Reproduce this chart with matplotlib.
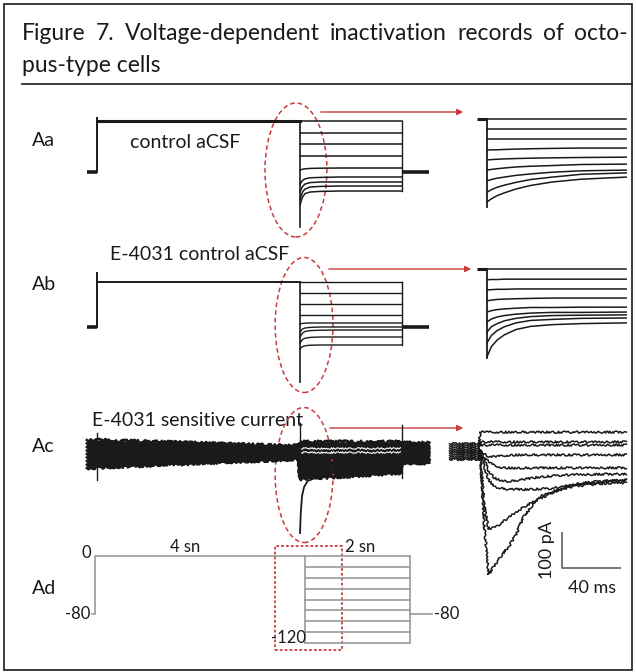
import numpy as np
import matplotlib.pyplot as plt
from matplotlib.patches import Ellipse, Rectangle

plt.rcParams['font.family'] = ['Lato', 'DejaVu Sans']

W, H = 636, 672
K = '#1a1a1a'
RED = '#cc3b3b'
GREY = '#9a9a9a'

# ---------------- data ----------------
# protocol times, s
t_hold = [-0.2, 0.0]
t_cond_end = 4.0
t_test_end = 6.0
t_tail_end = 6.55
t_test = [0.0, 0.05, 0.1, 0.2, 0.4, 0.8, 2.0]   # s after test step onset

# Aa: control aCSF, pA
aa_cond = 255
aa_cap = 270
aa_spike = -275
aa_test = [
    [255, 255, 255, 255, 255, 255, 255],
    [195, 195, 195, 195, 195, 195, 195],
    [140, 140, 140, 140, 140, 140, 140],
    [80, 80, 80, 80, 80, 80, 80],
    [10, 14, 16, 18, 19, 20, 20],
    [-60, -42, -34, -29, -27, -25, -25],
    [-100, -72, -60, -53, -50, -50, -50],
    [-135, -100, -85, -75, -72, -70, -70],
    [-165, -125, -108, -100, -97, -95, -95],
]

# Ab: E-4031 in control aCSF, pA
ab_cond = 225
ab_cap = 270
ab_spike = -275
ab_test = [
    [225, 225, 225, 225, 225, 225, 225],
    [170, 170, 170, 170, 170, 170, 170],
    [115, 115, 115, 115, 115, 115, 115],
    [60, 60, 60, 60, 60, 60, 60],
    [15, 18, 19, 20, 20, 20, 20],
    [-25, -10, -5, -2, 0, 0, 0],
    [-50, -30, -22, -18, -16, -15, -15],
    [-80, -62, -56, -52, -50, -50, -50],
    [-110, -98, -94, -91, -90, -90, -90],
]

# Ac: E-4031 sensitive current, pA
ac_t = [-0.2, 3.98, 4.0, 5.98, 6.0, 6.55]
ac_traces = [
    [65, 35, 55, 55, 50, 50],
    [48, 27, 40, 40, 38, 38],
    [30, 19, 25, 25, 25, 25],
    [12, 10, 5, 5, 12, 12],
    [-5, 2, -25, -20, 0, 0],
    [-22, -6, -55, -45, -12, -12],
    [-40, -14, -80, -65, -25, -25],
    [-58, -22, -105, -85, -38, -38],
    [-75, -30, -130, -100, -50, -50],
]
ac_dip_t = [4.0, 4.015, 4.04, 4.08, 4.15, 4.3, 4.6]
ac_dip = [-400, -300, -215, -170, -140, -125, -115]
ac_spikes = [(0.0, 100, -135), (4.0, 150, -130), (6.0, 140, -125)]

# insets: ms after test step onset, pA
ins_t = [0, 3, 7, 12, 20, 30, 45, 65, 96]
ins_aa = [
    [0, 0, 0, 0, 0, 0, 0, 0, 0],
    [-29, -29, -29, -29, -29, -29, -29, -29, -29],
    [-57, -57, -57, -57, -57, -57, -57, -57, -57],
    [-89, -88, -88, -87, -86, -85, -84, -83, -83],
    [-117, -116, -115, -114, -113, -112, -111, -110, -109],
    [-146, -144, -142, -140, -137, -135, -133, -130, -129],
    [-177, -173, -169, -166, -161, -157, -152, -148, -146],
    [-209, -202, -195, -189, -181, -173, -166, -158, -154],
    [-237, -228, -219, -211, -200, -190, -180, -172, -166],
]
ins_aa_bottom = -251
ins_ab = [
    [0, 0, 0, 0, 0, 0, 0, 0, 0],
    [-31, -30, -30, -29, -29, -29, -29, -29, -29],
    [-60, -59, -58, -58, -57, -57, -57, -57, -57],
    [-91, -89, -87, -86, -85, -84, -83, -83, -83],
    [-123, -119, -116, -114, -112, -110, -110, -109, -109],
    [-151, -143, -137, -133, -129, -126, -124, -124, -123],
    [-180, -165, -156, -148, -141, -136, -133, -132, -131],
    [-211, -190, -176, -165, -154, -147, -144, -141, -140],
    [-251, -222, -203, -188, -173, -164, -159, -156, -154],
]
ins_ab_bottom = -254

acin_pre_t = [-21, -0.5]
acin_pre = [18, 12, 6, 0, -5, -10, -16, -22, -27]
acin_t = [0, 3, 6, 10, 15, 20, 25, 30, 36, 42, 50, 58, 66, 76, 86, 101]
acin = [
    [51, 51, 51, 51, 51, 51, 51, 51, 51, 51, 51, 51, 51, 51, 51, 51],
    [23, 23, 23, 23, 23, 23, 23, 23, 23, 23, 23, 23, 23, 23, 23, 23],
    [14, 14, 14, 14, 14, 14, 14, 14, 14, 14, 14, 14, 14, 14, 14, 14],
    [-5, -12, -18, -20, -17, -15, -14, -14, -14, -14, -14, -14, -14, -14, -14, -14],
    [0, -20, -35, -45, -50, -51, -52, -52, -51, -51, -51, -51, -51, -51, -51, -51],
    [0, -30, -60, -80, -88, -90, -87, -84, -80, -77, -74, -72, -70, -70, -69, -69],
    [0, -50, -85, -105, -110, -112, -112, -113, -112, -111, -110, -104, -97, -92, -88, -86],
    [0, -160, -225, -222, -208, -192, -178, -163, -150, -138, -122, -110, -103, -99, -96, -94],
    [0, -220, -355, -330, -300, -275, -240, -191, -160, -132, -120, -108, -100, -95, -90, -86],
]

# Ad: voltage protocol, mV
v_hold = -80
v_cond = 0
v_test = [0, -15, -30, -45, -60, -75, -90, -105, -120]
t_proto_end = 6.42

fig = plt.figure(figsize=(W / 100, H / 100), dpi=100)


def make_ax(box, xref, yref):
    # box in pixels (left, top, right, bottom); xref/yref = (pixel of zero, pixels per unit)
    l, t, r, b = box
    ax = fig.add_axes([l / W, 1 - b / H, (r - l) / W, (b - t) / H])
    ax.set_xlim((l - xref[0]) / xref[1], (r - xref[0]) / xref[1])
    ax.set_ylim((yref[0] - b) / yref[1], (yref[0] - t) / yref[1])
    ax.axis('off')
    return ax


# overlay in pixel units for frame, title and labels
over = fig.add_axes([0, 0, 1, 1])
over.set_xlim(0, W)
over.set_ylim(H, 0)
over.axis('off')
over.add_patch(Rectangle((4, 4), 628, 666, fill=False, ec=K, lw=1.2))
over.plot([22, 632], [84, 84], color=K, lw=1.2)

# first title line is justified, as in the journal layout
title1 = ["Figure", "7.", "Voltage-dependent", "inactivation", "records", "of", "octo-"]
renderer = fig.canvas.get_renderer()
words = [over.text(0, 34, w, fontsize=16.5, va='center', color=K) for w in title1]
widths = [w.get_window_extent(renderer).width for w in words]
gap = (606 - sum(widths)) / (len(words) - 1)
x = 22
for w, wd in zip(words, widths):
    w.set_x(x)
    x += wd + gap
over.text(22, 66, "pus-type cells", fontsize=16.5, va='center', color=K)

for lab, y in [("Aa", 140), ("Ab", 285), ("Ac", 447), ("Ad", 588)]:
    over.text(32, y, lab, fontsize=14, va='center', color=K)
over.text(130, 142, "control aCSF", fontsize=14, va='center', color=K)
over.text(110, 255, "E-4031 control aCSF", fontsize=14, va='center', color=K)
over.text(92, 420, "E-4031 sensitive current", fontsize=14, va='center', color=K)

for (x0, x1, y) in [(318, 466, 112), (326, 474, 269), (327, 466, 428)]:
    over.annotate('', xy=(x1, y), xytext=(x0, y),
                  arrowprops=dict(arrowstyle='-|>', color=RED, lw=1.0, mutation_scale=9))

# ---------------- main traces ----------------
ax_aa = make_ax((80, 100, 445, 243), (97, 50.75), (172, 0.2))
ax_ab = make_ax((80, 245, 445, 400), (97, 50.75), (327, 0.2))
ax_ac = make_ax((80, 400, 445, 550), (97, 50.75), (453, 0.2))


def draw_family(ax, cond, cap, spike, test, lw_cond, lw_fam):
    ax.plot(t_hold, [0, 0], color=K, lw=2.6, solid_capstyle='butt')
    ax.plot([0, 0], [0, cap], color=K, lw=1.4)
    ax.plot([0, t_cond_end], [cond, cond], color=K, lw=lw_cond)
    ax.plot([t_cond_end] * 2, [cond, spike], color=K, lw=1.2)
    for tr in test:
        ax.plot(t_cond_end + np.array(t_test), tr, color=K, lw=lw_fam)
    ax.plot([t_test_end] * 2, [test[0][-1], test[-1][-1]], color=K, lw=1.0)
    ax.plot([t_test_end, t_tail_end], [0, 0], color=K, lw=2.6, solid_capstyle='butt')


draw_family(ax_aa, aa_cond, aa_cap, aa_spike, aa_test, 2.2, 1.1)
draw_family(ax_ab, ab_cond, ab_cap, ab_spike, ab_test, 1.4, 1.0)

# noisy band: solid envelope plus ragged individual sweeps
ax_ac.fill_between(ac_t, ac_traces[0], ac_traces[-1], color=K, lw=0)
for tr in ac_traces:
    ln, = ax_ac.plot(ac_t, tr, color=K, lw=1.8)
    ln.set_sketch_params(1.4, 1.2, 8)
for tr in ac_traces[2:4]:
    ln, = ax_ac.plot(ac_t[2:4], tr[2:4], color='white', lw=0.8)
    ln.set_sketch_params(0.8, 2, 6)
ax_ac.plot(ac_dip_t, ac_dip, color=K, lw=1.3)
for t0, top, bot in ac_spikes:
    ax_ac.plot([t0, t0], [top, bot], color=K, lw=1.0)

ell_style = dict(fill=False, ec=RED, lw=1.1, ls=(0, (3, 2)), clip_on=False)
ax_aa.add_patch(Ellipse((3.92, 10), 1.22, 670, **ell_style))
ax_ab.add_patch(Ellipse((4.08, 10), 1.14, 675, **ell_style))
ax_ac.add_patch(Ellipse((4.08, -110), 1.14, 675, **ell_style))

# ---------------- insets ----------------
in_aa = make_ax((470, 100, 636, 243), (487, 1.45), (119, 0.35))
in_ab = make_ax((470, 245, 636, 400), (487, 1.45), (269, 0.35))
in_ac = make_ax((440, 405, 636, 620), (480, 1.45), (450, 0.35))


def draw_inset(ax, vals, bottom):
    ax.plot([-7, 0], [0, 0], color=K, lw=2.2, solid_capstyle='butt')
    ax.plot([0, 0], [0, bottom], color=K, lw=1.3)
    for tr in vals:
        ax.plot(ins_t, tr, color=K, lw=1.1)


draw_inset(in_aa, ins_aa, ins_aa_bottom)
draw_inset(in_ab, ins_ab, ins_ab_bottom)

for pre, tr in zip(acin_pre, acin):
    ln, = in_ac.plot(acin_pre_t + acin_t, [pre, pre] + tr, color=K, lw=1.1)
    ln.set_sketch_params(1.0, 2.0, 5)

# scale bar
in_ac.plot([56.6, 56.6, 96.6], [-237, -337, -337], color='#777777', lw=1.4)
in_ac.text(46, -287, "100 pA", rotation=90, fontsize=13, ha='center', va='center', color=K)
in_ac.text(77, -394, "40 ms", fontsize=13, ha='center', va='center', color=K)

# ---------------- Ad protocol ----------------
ax_ad = make_ax((40, 535, 470, 665), (95, 52.5), (556, 0.725))
ax_ad.plot([-0.06, 0, 0, t_cond_end], [v_hold, v_hold, v_cond, v_cond], color=GREY, lw=1.2)
for v in v_test:
    ax_ad.plot([t_cond_end, t_test_end], [v, v], color=GREY, lw=1.2)
ax_ad.plot([t_cond_end] * 2, [v_test[0], v_test[-1]], color=GREY, lw=1.2)
ax_ad.plot([t_test_end] * 2, [v_test[0], v_test[-1]], color=GREY, lw=1.2)
ax_ad.plot([t_test_end, t_proto_end], [v_hold, v_hold], color=GREY, lw=1.2)
ax_ad.text(-0.08, 4, "0", fontsize=12, ha='right', va='center', color=K)
ax_ad.text(-0.08, v_hold, "-80", fontsize=12, ha='right', va='center', color=K)
ax_ad.text(t_proto_end + 0.04, v_hold, "-80", fontsize=12, ha='left', va='center', color=K)
ax_ad.text(3.68, -113, "-120", fontsize=12, ha='center', va='center', color=K)
ax_ad.text(1.71, 13, "4 sn", fontsize=12, ha='center', va='center', color=K)
ax_ad.text(5.05, 13, "2 sn", fontsize=12, ha='center', va='center', color=K)
ax_ad.add_patch(Rectangle((3.43, -129.7), 1.27, 143.5, fill=False, ec=RED, lw=1.3,
                          ls=(0, (1.5, 1.2)), clip_on=False))

fig.savefig('out.png', dpi=100)
